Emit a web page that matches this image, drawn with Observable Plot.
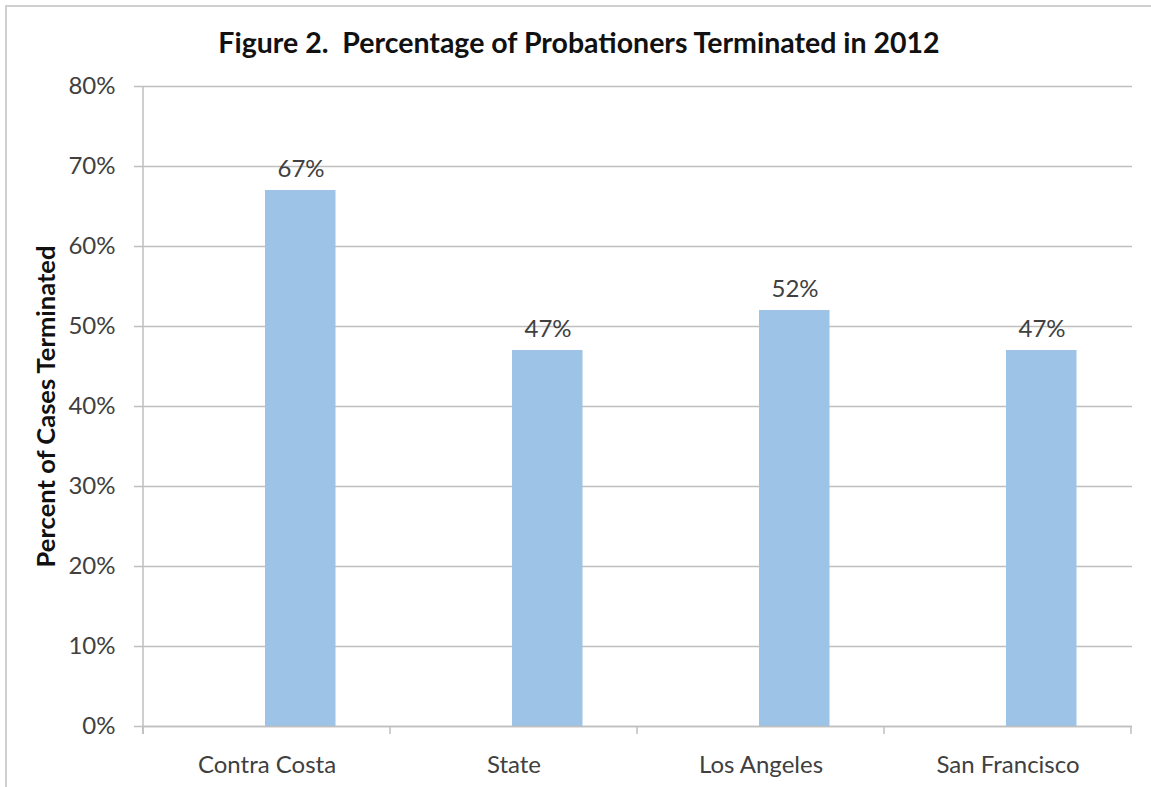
<!DOCTYPE html>
<html>
<head>
<meta charset="utf-8">
<script src="https://cdn.jsdelivr.net/npm/d3@7"></script>
<script src="https://cdn.jsdelivr.net/npm/@observablehq/plot@0.6"></script>
<style>
  html, body { margin: 0; padding: 0; background: #fff; }
  #page { position: relative; width: 1151px; height: 787px; overflow: hidden; font-family: Lato, "Noto Sans", sans-serif; }
  #frame { position: absolute; left: 5px; top: 5px; width: 1200px; height: 900px; border-left: 2px solid #d0d0d0; border-top: 2px solid #d0d0d0; }
  #title { position: absolute; left: 0; top: 25px; width: 1158px; text-align: center; font-size: 28.5px; line-height: 34px; font-weight: bold; color: #111; white-space: pre; }
  #chart { position: absolute; left: 0; top: 60px; }
</style>
</head>
<body>
<div id="page">
  <div id="frame"></div>
  <div id="title">Figure 2.  Percentage of Probationers Terminated in 2012</div>
  <div id="chart"></div>
</div>
<script>
const categories = ["Contra Costa", "State", "Los Angeles", "San Francisco"];
const values = [0.67, 0.47, 0.52, 0.47];
const yTicks = [0, 0.1, 0.2, 0.3, 0.4, 0.5, 0.6, 0.7, 0.8];
const yLabel = "Percent of Cases Terminated";

const data = categories.map((c, i) => ({category: c, value: values[i]}));
const pct = d3.format(".0%");

const plot = Plot.plot({
  width: 1151,
  height: 727,
  marginTop: 26,
  marginBottom: 61,
  marginLeft: 142,
  marginRight: 19,
  style: {fontFamily: "Lato, 'Noto Sans', sans-serif", fontSize: "24px", color: "#404040", background: "transparent"},
  x: {domain: categories, padding: 0},
  y: {domain: [0, 0.8]},
  marks: [
    Plot.gridY(yTicks, {stroke: "#bfbfbf", strokeOpacity: 1, strokeWidth: 1.5}),
    // Excel clustered layout: the bar sits right of the category centre
    Plot.barY(data, {x: "category", y: "value", fill: "#9dc3e6", insetLeft: 122, insetRight: 54.5}),
    Plot.text(data, {x: "category", y: "value", text: d => pct(d.value), dx: 34, dy: -21, fill: "#404040", fontSize: 24}),
    Plot.axisY(yTicks, {tickFormat: pct, tickSize: 8, tickPadding: 19, stroke: "#bfbfbf", strokeWidth: 1.5, fill: "#404040", fontSize: 24,
      label: yLabel, labelAnchor: "center", labelOffset: 106}),
    Plot.axisX({tickSize: 0, tickPadding: 29, fill: "#404040", fontSize: 24, label: null}),
    Plot.ruleY([0], {stroke: "#bfbfbf", strokeWidth: 1.5})
  ]
});

document.getElementById("chart").appendChild(plot);

// y-axis label styling (no arrow, bold)
d3.select(plot).selectAll("g[aria-label='y-axis label'] text")
  .text(yLabel).attr("font-weight", "bold").attr("fill", "#111").attr("font-size", 25.5);

// y axis line and category boundary ticks, derived from the scales
const xs = plot.scale("x");
const yScale = plot.scale("y");
const y0 = yScale.apply(0);
const yTop = yScale.apply(0.8);
const step = xs.step;
const bounds = categories.map(c => xs.apply(c)).concat([xs.apply(categories[categories.length - 1]) + step]);
const g = d3.select(plot).append("g").attr("aria-label", "axis-lines");
g.append("line").attr("x1", bounds[0]).attr("x2", bounds[0]).attr("y1", yTop).attr("y2", y0 + 8)
  .attr("stroke", "#bfbfbf").attr("stroke-width", 1.5);
g.selectAll("line.xt").data(bounds).join("line").attr("class", "xt")
  .attr("x1", d => d).attr("x2", d => d)
  .attr("y1", y0).attr("y2", y0 + 8)
  .attr("stroke", "#bfbfbf").attr("stroke-width", 1.5);
</script>
</body>
</html>
